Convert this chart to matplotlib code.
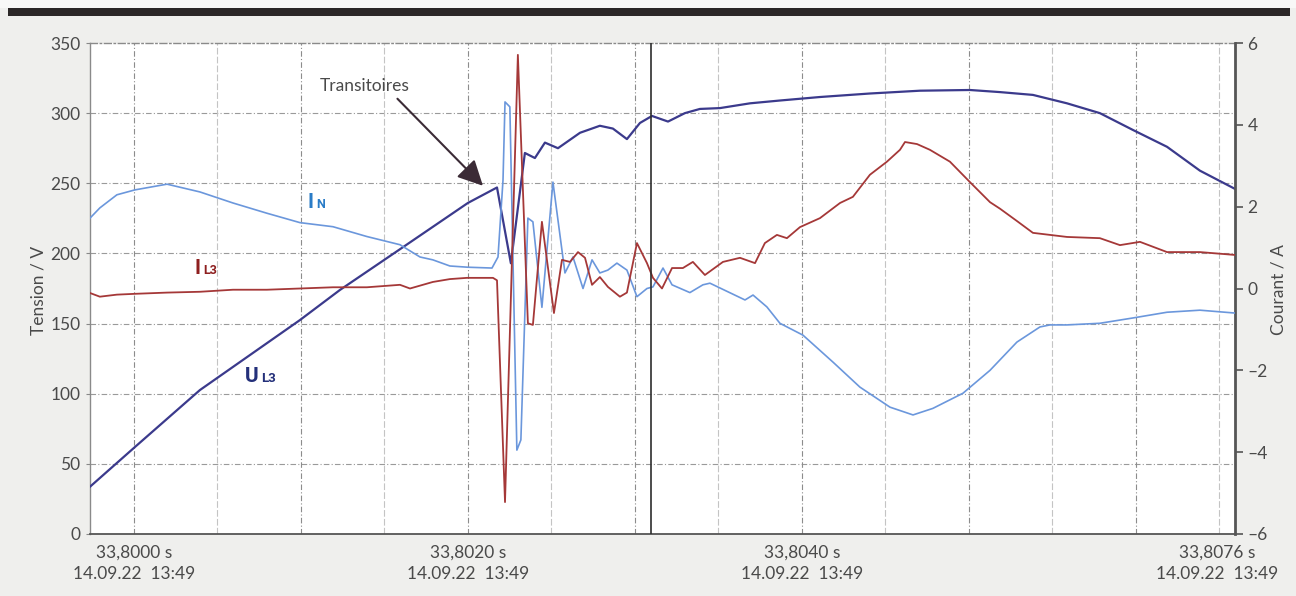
import matplotlib
matplotlib.use('Agg')
import matplotlib.pyplot as plt
from matplotlib.patches import Rectangle
import matplotlib.transforms as mtransforms

# time axis: ms after 33,8000 s
t_u = [-0.263, 0.006, 0.395, 0.994, 1.234, 1.593, 2.000, 2.174, 2.257, 2.341, 2.401,
       2.461, 2.539, 2.671, 2.790, 2.868, 2.952, 3.030, 3.102, 3.198, 3.299, 3.389,
       3.509, 3.689, 3.868, 4.108, 4.407, 4.707, 5.006, 5.186, 5.383, 5.587, 5.784,
       5.982, 6.186, 6.383, 6.593]
u_l3 = [33.7, 62, 102.6, 152.5, 174, 203, 236, 247, 193, 271.6, 268,
        279, 275, 286, 291, 289, 281.5, 293, 298, 294, 300, 303,
        303.6, 307, 309, 311.5, 314, 316, 316.5, 315, 313, 307, 300,
        288, 276, 259, 246]

t_in = [-0.263, -0.204, -0.102, 0.006, 0.198, 0.395, 0.593, 0.796, 0.994, 1.192, 1.395,
        1.593, 1.713, 1.790, 1.892, 2.000, 2.144, 2.180, 2.210, 2.222, 2.251, 2.293,
        2.317, 2.359, 2.389, 2.443, 2.509, 2.581, 2.629, 2.689, 2.743, 2.790, 2.838,
        2.892, 2.952, 3.012, 3.072, 3.108, 3.168, 3.222, 3.329, 3.407, 3.449, 3.659,
        3.707, 3.790, 3.868, 4.006, 4.186, 4.347, 4.527, 4.665, 4.784, 4.964, 5.126,
        5.287, 5.425, 5.485, 5.587, 5.784, 5.982, 6.186, 6.383, 6.593]
i_n = [1.72, 1.97, 2.29, 2.41, 2.55, 2.36, 2.09, 1.84, 1.61, 1.51, 1.27,
       1.07, 0.77, 0.70, 0.55, 0.52, 0.50, 0.77, 2.65, 4.56, 4.44, -3.95,
       -3.70, 1.72, 1.63, -0.46, 2.60, 0.38, 0.77, 0.00, 0.70, 0.38, 0.45,
       0.62, 0.45, -0.20, 0.00, 0.04, 0.50, 0.09, -0.10, 0.09, 0.13, -0.28,
       -0.16, -0.45, -0.85, -1.14, -1.80, -2.41, -2.90, -3.09, -2.93, -2.56, -2.00,
       -1.31, -0.94, -0.89, -0.89, -0.85, -0.72, -0.58, -0.53, -0.60]

t_il3 = [-0.263, -0.204, -0.102, 0.006, 0.198, 0.395, 0.593, 0.796, 0.994, 1.192, 1.395,
         1.593, 1.653, 1.790, 1.892, 1.994, 2.150, 2.174, 2.222, 2.299, 2.359, 2.389,
         2.443, 2.515, 2.563, 2.611, 2.659, 2.701, 2.743, 2.790, 2.838, 2.910, 2.952,
         3.012, 3.072, 3.108, 3.162, 3.222, 3.287, 3.347, 3.419, 3.527, 3.629, 3.719,
         3.778, 3.850, 3.910, 3.988, 4.108, 4.228, 4.305, 4.407, 4.509, 4.587, 4.617,
         4.689, 4.766, 4.886, 5.006, 5.126, 5.186, 5.287, 5.383, 5.485, 5.587, 5.784,
         5.904, 6.024, 6.186, 6.383, 6.593]
i_l3 = [-0.11, -0.20, -0.15, -0.13, -0.10, -0.08, -0.03, -0.03, 0.00, 0.03, 0.03,
        0.09, 0.00, 0.16, 0.23, 0.26, 0.26, 0.20, -5.22, 5.71, -0.85, -0.89,
        1.63, -0.60, 0.70, 0.65, 0.89, 0.75, 0.09, 0.28, 0.04, -0.20, -0.10,
        1.11, 0.62, 0.26, 0.00, 0.50, 0.50, 0.65, 0.33, 0.65, 0.75, 0.62,
        1.11, 1.31, 1.23, 1.50, 1.72, 2.09, 2.24, 2.78, 3.10, 3.39, 3.58,
        3.53, 3.39, 3.10, 2.60, 2.11, 1.95, 1.65, 1.36, 1.31, 1.26, 1.23,
        1.06, 1.14, 0.89, 0.89, 0.82]

x_tick_pos = [0, 2, 4, 6.593]
x_tick_labels = ['33,8000 s\n14.09.22  13:49', '33,8020 s\n14.09.22  13:49',
                 '33,8040 s\n14.09.22  13:49', '33,8076 s\n14.09.22  13:49']
v_ticks = [0, 50, 100, 150, 200, 250, 300, 350]
a_ticks = [-6, -4, -2, 0, 2, 4, 6]
a_tick_labels = ['\u20136', '\u20134', '\u20132', '0', '2', '4', '6']
x_grid = [0, 0.5, 1, 1.5, 2, 2.5, 3, 3.5, 4, 4.5, 5, 5.5, 6, 6.5]
cursor_t = 3.096
x_min, x_max = -0.263, 6.593

FONT = ['Lato', 'DejaVu Sans']
TXT = '#4a4a4a'

fig = plt.figure(figsize=(12.96, 5.96), dpi=100, facecolor='#efefed')
fig.patches.append(Rectangle((0, 1 - 8 / 596), 1, 8 / 596, transform=fig.transFigure,
                             facecolor='#f8f8f7', edgecolor='none', zorder=0))
fig.patches.append(Rectangle((8 / 1296, 1 - 16 / 596), 1282 / 1296, 8 / 596,
                             transform=fig.transFigure, facecolor='#2b2727',
                             edgecolor='none', zorder=1))

ax = fig.add_axes([90 / 1296, 1 - 534 / 596, (1235 - 90) / 1296, (534 - 43) / 596])
ax.set_facecolor('white')
ax2 = ax.twinx()

# grid (voltage axis)
for yv in v_ticks[1:-1]:
    ax.axhline(yv, color='#9a9a9a', lw=0.8, ls=(0, (5, 2, 1, 2)), zorder=1)
for i, xv in enumerate(x_grid):
    major = (abs(xv - round(xv)) < 1e-9)
    ax.axvline(xv, color='#8c8c8c' if major else '#c4c4c4', lw=0.8,
               ls=(0, (5, 2, 1, 2)) if major else (0, (6, 2)), zorder=1)

ax.plot(t_u, u_l3, color='#3b3a8c', lw=1.6, zorder=3)
ax2.plot(t_in, i_n, color='#6b97dc', lw=1.2, zorder=3)
ax2.plot(t_il3, i_l3, color='#a53838', lw=1.3, zorder=4)
ax2.axvline(cursor_t, color='#2e2e2e', lw=1.2, zorder=5)

ax.set_xlim(x_min, x_max)
ax.set_ylim(0, 350)
ax2.set_ylim(-6, 6)

ax.set_yticks(v_ticks)
ax.set_yticklabels([str(v) for v in v_ticks])
ax.tick_params(axis='y', direction='out', length=3, width=0.8, color='#888888',
               labelsize=12.5, labelcolor=TXT, pad=4)
ax.set_xticks(x_tick_pos)
ax.set_xticklabels(x_tick_labels, linespacing=1.35)
ax.tick_params(axis='x', length=0, labelsize=12.5, labelcolor=TXT, pad=8)
off = mtransforms.ScaledTranslation(-18 / 100, 0, fig.dpi_scale_trans)
lbls = ax.get_xticklabels()
lbls[-1].set_transform(lbls[-1].get_transform() + off)
for lb in ax.get_xticklabels() + ax.get_yticklabels():
    lb.set_family(FONT)

ax2.set_yticks(a_ticks)
ax2.set_yticklabels(a_tick_labels)
ax2.tick_params(axis='y', direction='out', length=6, width=1.2, color='#555555',
                labelsize=12.5, labelcolor=TXT, pad=3)
for lb in ax2.get_yticklabels():
    lb.set_family(FONT)

for s in ['top', 'bottom', 'left']:
    ax2.spines[s].set_visible(False)
ax2.spines['right'].set_color('#555555')
ax2.spines['right'].set_linewidth(2)
ax.spines['right'].set_visible(False)
ax.spines['left'].set_color('#8a8a8a')
ax.spines['left'].set_linewidth(1.0)
ax.spines['top'].set_color('#8a8a8a')
ax.spines['top'].set_linestyle((0, (5, 2, 1, 2)))
ax.spines['top'].set_linewidth(1.0)
ax.spines['bottom'].set_color('#555555')
ax.spines['bottom'].set_linestyle((0, (3, 1)))
ax.spines['bottom'].set_linewidth(1.3)

fig.text(38 / 1296, 1 - 290 / 596, 'Tension / V', rotation=90, ha='center', va='center',
         fontsize=12.5, color=TXT, family=FONT)
fig.text(1278 / 1296, 1 - 290 / 596, 'Courant / A', rotation=90, ha='center', va='center',
         fontsize=12.5, color=TXT, family=FONT)

# series labels (main letter + subscript sharing the baseline)
LBL = ['Roboto', 'DejaVu Sans']
ax.text(1.042, 232.4, 'I', color='#2a7cc7', fontsize=15, fontweight='bold', family=LBL,
        va='baseline', ha='left', zorder=6)
ax.text(1.090, 232.4, 'N', color='#2a7cc7', fontsize=9, fontweight='bold', family=LBL,
        va='baseline', ha='left', zorder=6)
ax.text(0.365, 185.3, 'I', color='#8e1f1f', fontsize=15, fontweight='bold', family=LBL,
        va='baseline', ha='left', zorder=6)
ax.text(0.413, 185.3, 'L3', color='#8e1f1f', fontsize=9, fontweight='bold', family=LBL,
        va='baseline', ha='left', zorder=6)
ax.text(0.665, 108.3, 'U', color='#24307a', fontsize=15, fontweight='bold', family=LBL,
        va='baseline', ha='left', zorder=6)
ax.text(0.760, 108.3, 'L3', color='#24307a', fontsize=9.5, fontweight='bold', family=LBL,
        va='baseline', ha='left', zorder=6)

ax2.annotate('Transitoires', xy=(2.090, 2.51), xytext=(1.383, 4.95),
             ha='center', va='center', fontsize=12.5, color=TXT, family=FONT,
             arrowprops=dict(arrowstyle='-|>,head_length=0.7,head_width=0.35',
                             color='#3b2b36', lw=1.5, mutation_scale=22,
                             shrinkA=2, shrinkB=0, relpos=(0.81, 0.0)),
             zorder=7)

fig.savefig('out.png', dpi=100, facecolor=fig.get_facecolor())
